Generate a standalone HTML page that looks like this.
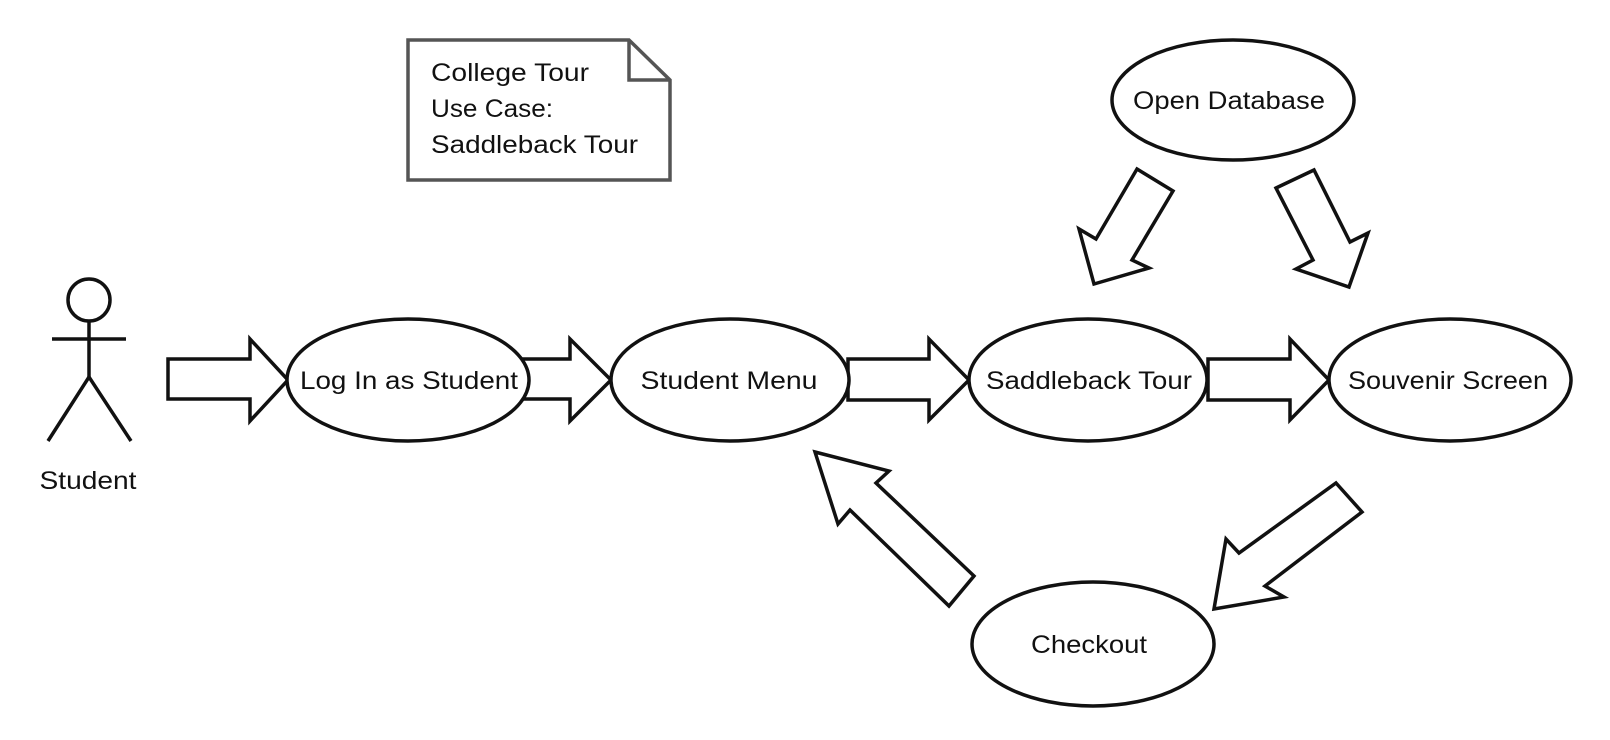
<!DOCTYPE html>
<html><head><meta charset="utf-8"><style>
html,body{margin:0;padding:0;background:#fff;}
svg{display:block;}
text{font-family:"Liberation Sans",sans-serif;font-size:25px;fill:#111;}
</style></head><body>
<svg width="1610" height="740" viewBox="0 0 1610 740" xmlns="http://www.w3.org/2000/svg">
<g fill="#fff" stroke="#111" stroke-width="3.5" stroke-linejoin="miter">
<ellipse cx="89" cy="300" rx="21" ry="21"/>
<line x1="89" y1="321" x2="89" y2="377"/>
<line x1="52" y1="339" x2="126" y2="339"/>
<polyline points="48,441 89,377 131,441" fill="none"/>
<polygon points="168,359 250,359 250,339 288,380 250,421 250,399 168,399"/>
<polygon points="522,359 570,359 570,339 611,380 570,421 570,399 522,399"/>
<polygon points="848,359 929,359 929,339 969,380 929,420 929,400 848,400"/>
<polygon points="1208,359 1290,359 1290,339 1329,380 1290,420 1290,400 1208,400"/>
<ellipse cx="408" cy="380" rx="121" ry="61"/>
<ellipse cx="730" cy="380" rx="119" ry="61"/>
<ellipse cx="1088" cy="380" rx="119" ry="61"/>
<ellipse cx="1450" cy="380" rx="121" ry="61"/>
<ellipse cx="1233" cy="100" rx="121" ry="60"/>
<ellipse cx="1093" cy="644" rx="121" ry="62"/>
<polygon points="1137,169 1173,191 1132,260 1149,268 1094,284 1079,229 1096,239"/>
<polygon points="1276,188 1314,170 1350,242 1368,233 1349,287 1296,269 1313,260"/>
<polygon points="815,452 889,471 876,483 974,576 949,606 850,510 838,524"/>
<polygon points="1336,483 1362,512 1265,586 1284,597 1214,609 1226,539 1239,553"/>
</g>
<g fill="#fff" stroke="#555" stroke-width="3.5">
<polygon points="408,40 629,40 670,80 670,180 408,180"/>
<polyline points="629,40 629,80 670,80" fill="none"/>
</g>
<g style="font-size:25px;fill:#555">
<text x="431" y="81" textLength="158" lengthAdjust="spacingAndGlyphs">College Tour</text>
<text x="431" y="117" textLength="122" lengthAdjust="spacingAndGlyphs">Use Case:</text>
<text x="431" y="153" textLength="207" lengthAdjust="spacingAndGlyphs">Saddleback Tour</text>
</g>
<g text-anchor="middle">
<text x="88" y="489" textLength="97" lengthAdjust="spacingAndGlyphs">Student</text>
<text x="409" y="389" textLength="218" lengthAdjust="spacingAndGlyphs">Log In as Student</text>
<text x="729" y="389" textLength="177" lengthAdjust="spacingAndGlyphs">Student Menu</text>
<text x="1089" y="389" textLength="206" lengthAdjust="spacingAndGlyphs">Saddleback Tour</text>
<text x="1448" y="389" textLength="200" lengthAdjust="spacingAndGlyphs">Souvenir Screen</text>
<text x="1229" y="109" textLength="192" lengthAdjust="spacingAndGlyphs">Open Database</text>
<text x="1089" y="653" textLength="116" lengthAdjust="spacingAndGlyphs">Checkout</text>
</g>
</svg>
</body></html>
